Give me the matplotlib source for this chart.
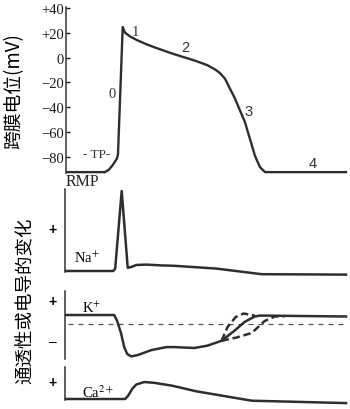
import matplotlib
matplotlib.use('Agg')
import matplotlib.pyplot as plt

# ---------------- data ----------------
# time axis (arbitrary ms units, shared by all panels)
ap_t = [0, 38, 42, 46, 50, 51, 55.7, 58, 63, 70, 80, 90, 106, 128, 140, 148, 153, 158, 168, 178, 188, 193, 198, 279]
ap_mv = [-92, -92, -90, -86, -81, -77.5, 24.5, 20, 17, 14, 10.5, 7.5, 3, -2.5, -6, -9.5, -12.5, -17, -33, -52, -79, -88, -92, -92]

na_t = [0, 47, 49, 55.5, 61.5, 65, 70, 80, 95, 108, 150, 195, 279]
na_g = [0, 0, 0.03, 1.0, 0.04, 0.05, 0.075, 0.08, 0.07, 0.065, 0.03, -0.04, -0.045]

k_t = [0, 48, 51, 55, 58, 61, 65, 72, 85, 100, 108, 128, 141, 155, 168, 178, 188, 193, 198, 279]
k_g = [0.3, 0.3, 0.1, -0.33, -0.77, -1.0, -1.08, -1.03, -0.87, -0.77, -0.77, -0.8, -0.72, -0.56, -0.22, 0.07, 0.25, 0.28, 0.28, 0.25]
k_early_t = [155, 161, 169, 177, 188]
k_early_g = [-0.56, -0.1, 0.23, 0.35, 0.28]
k_late_t = [155, 170, 185, 198, 208, 218]
k_late_g = [-0.56, -0.45, -0.3, 0.1, 0.25, 0.26]
k_ref = 0.0

ca_t = [0, 59, 62, 66, 70, 78, 88, 106, 130, 150, 185, 279]
ca_g = [0, 0, 0.2, 0.6, 0.85, 1.0, 0.95, 0.78, 0.45, 0.25, -0.1, -0.24]

ap_ticks = [40, 20, 0, -20, -40, -60, -80]
ap_ticklabels = ['+40', '+20', '0', '\u221220', '\u221240', '\u221260', '\u221280']

phase_labels = ['0', '1', '2', '3', '4']
phase_t = [45, 68, 118, 182, 246]
phase_mv = [-29, 21, 8.3, -42.6, -84.7]

# ---------------- figure ----------------
W, H = 350, 410
fig = plt.figure(figsize=(3.5, 4.1), dpi=100)
plt.rcParams['mathtext.fontset'] = 'stix'
SERIF = ['Liberation Serif', 'DejaVu Serif']
CJK = ['Noto Sans CJK SC', 'DejaVu Sans']
LC = '#2e2e2e'


def add_ax(x0, x1, ytop, ybot):
    return fig.add_axes([x0 / W, 1 - ybot / H, (x1 - x0) / W, (ybot - ytop) / H])


def style(ax):
    for s in ['top', 'right', 'bottom']:
        ax.spines[s].set_visible(False)
    ax.spines['left'].set_linewidth(1.1)
    ax.spines['left'].set_color('#333333')
    ax.set_xlim(-1, 279)
    ax.set_xticks([])
    ax.patch.set_alpha(0)


# action potential
ax1 = add_ax(66, 346, 8, 174)
style(ax1)
ax1.set_ylim(-92.7, 40.6)
ax1.plot(ap_t, ap_mv, color=LC, lw=1.7, clip_on=False, solid_joinstyle='round')
ax1.set_yticks(ap_ticks)
ax1.set_yticklabels(ap_ticklabels, fontfamily=SERIF, fontsize=10.5)
ax1.tick_params(axis='y', direction='in', length=3, width=1, pad=1.5, colors='#1a1a1a')
for lab, t, v in zip(phase_labels, phase_t, phase_mv):
    fam = SERIF if lab in ('0', '1') else ['Liberation Sans']
    ax1.text(t, v, lab, fontsize=10.5, family=fam, ha='center', va='center', color='#333333')
ax1.text(30, -77.4, '- TP-', fontsize=9.5, family=SERIF, ha='center', va='center', color='#333333')
ax1.text(-1.5, -99.5, 'RMP', fontsize=11.5, family=SERIF, ha='left', va='center', color='#222222')

# Na
ax2 = add_ax(65, 346, 190, 273)
style(ax2)
ax2.set_ylim(-0.0125, 1.025)
ax2.set_yticks([])
ax2.plot(na_t, na_g, color=LC, lw=1.8, clip_on=False)
ax2.text(21, 0.17, 'Na$^{+}$', fontsize=10.5, family=SERIF, ha='center', va='center')
ax2.text(-0.043, 0.525, '+', transform=ax2.get_yaxis_transform(), fontsize=10,
         family=['Liberation Sans'], weight='bold', ha='center', va='center')

# K
ax3 = add_ax(65, 346, 292, 360)
style(ax3)
ax3.set_ylim(-1.1667, 1.1)
ax3.set_yticks([])
ax3.axhline(k_ref, xmin=0.01, color='#555555', lw=0.9, ls=(0, (4, 4)))
ax3.plot(k_t, k_g, color=LC, lw=1.8, clip_on=False)
ax3.plot(k_early_t, k_early_g, color=LC, lw=1.8, ls=(0, (3, 1.5)))
ax3.plot(k_late_t, k_late_g, color=LC, lw=1.8, ls=(0, (3, 1.5)))
ax3.text(26, 0.55, 'K$^{+}$', fontsize=10.5, family=SERIF, ha='center', va='center')
ax3.text(-0.043, 0.767, '+', transform=ax3.get_yaxis_transform(), fontsize=10,
         family=['Liberation Sans'], weight='bold', ha='center', va='center')
ax3.text(-0.043, -0.567, '\u2013', transform=ax3.get_yaxis_transform(), fontsize=10,
         family=['Liberation Sans'], ha='center', va='center')

# Ca
ax4 = add_ax(65, 346, 368, 401)
style(ax4)
ax4.set_ylim(-0.0588, 1.882)
ax4.set_yticks([])
ax4.plot(ca_t, ca_g, color=LC, lw=1.8, clip_on=False)
ax4.text(32, 0.45, 'Ca$^{2+}$', fontsize=10.5, family=SERIF, ha='center', va='center')
ax4.text(-0.043, 1.0, '+', transform=ax4.get_yaxis_transform(), fontsize=10,
         family=['Liberation Sans'], weight='bold', ha='center', va='center')

# axis titles
fig.text(14 / W, 1 - 91 / H, '跨膜电位(mV)', rotation=90, ha='center', va='center',
         fontsize=13.5, family=CJK, weight='medium')
fig.text(26 / W, 1 - 301 / H, '通透性或电导的变化', rotation=90, ha='center', va='center',
         fontsize=13.3, family=CJK, weight='medium')

fig.savefig('out.png', dpi=100)
